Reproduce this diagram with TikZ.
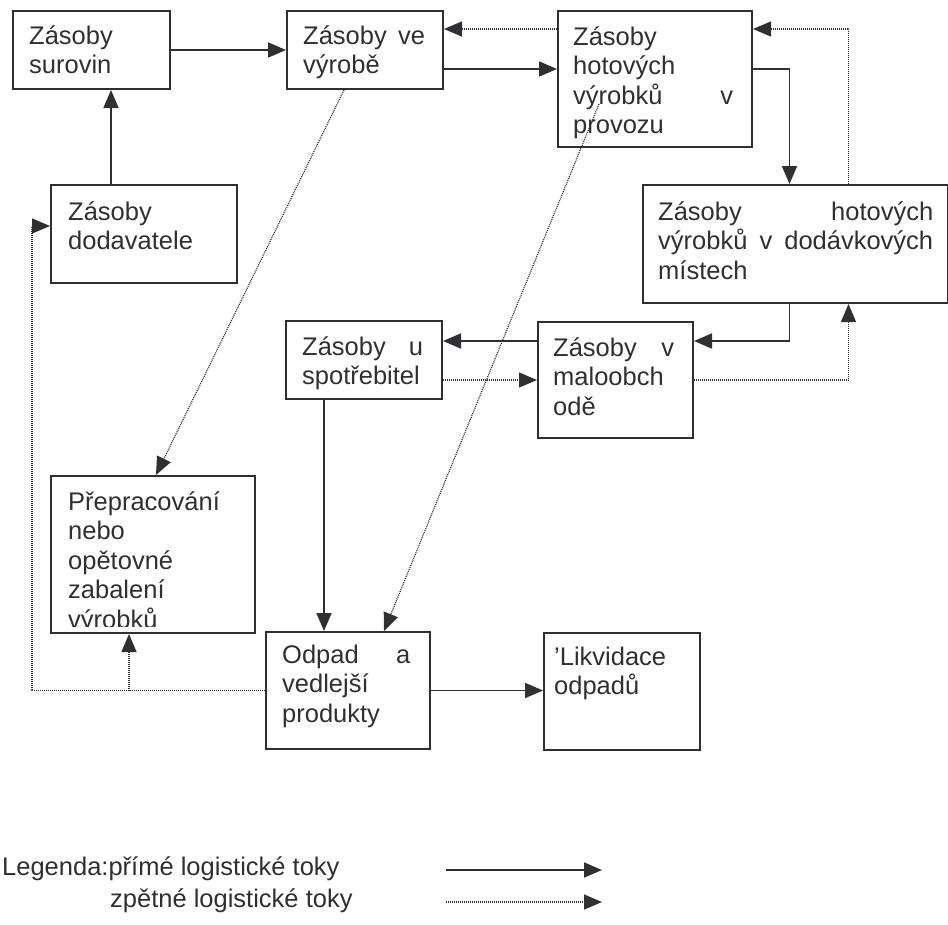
\documentclass[tikz,border=0pt]{standalone}
\usepackage{fontspec}
\setmainfont{Liberation Sans}
\usetikzlibrary{arrows.meta}
\definecolor{ink}{RGB}{48,48,52}
\tikzset{
  zasoba/.style={draw=ink, line width=2pt, anchor=north west, inner sep=0pt},
  popis/.style={anchor=base west, inner sep=0pt, text width=#1, align=justify,
    text=ink, font=\fontsize{25.5pt}{29.5pt}\selectfont},
  legtext/.style={anchor=base west, inner sep=0pt, text=ink,
    font=\fontsize{25.5pt}{29.5pt}\selectfont},
  prima/.style={draw=ink, line width=1.8pt, -{Triangle[length=18pt,width=15pt]}},
  zpetna/.style={draw=ink, line width=1.2pt, dash pattern=on 1pt off 1pt,
    -{Triangle[length=18pt,width=15pt]}}
}
\begin{document}
\begin{tikzpicture}[x=1pt, y=-1pt]
  \fill[white] (0,0) rectangle (948,924);
  \useasboundingbox (0,0) rectangle (948,924);
  % boxes
  \node[zasoba, minimum width=157pt, minimum height=78pt] (surovin) at (12,10) {};
  \node[popis=123pt] (surovin-t) at ([shift={(17,34)}]surovin.north west) {Zásoby\\surovin};
  \node[zasoba, minimum width=156pt, minimum height=78pt] (vyroba) at (286,10) {};
  \node[popis=122pt] (vyroba-t) at ([shift={(17,34)}]vyroba.north west) {Zásoby ve\linebreak výrobě};
  \node[zasoba, minimum width=186pt, minimum height=98pt] (dodav) at (50,184) {};
  \node[popis=152pt] (dodav-t) at ([shift={(18,36)}]dodav.north west) {Zásoby\\dodavatele};
  \node[zasoba, minimum width=194pt, minimum height=136pt] (hotprov) at (557,10) {};
  \node[popis=160pt] (hotprov-t) at ([shift={(16,35)}]hotprov.north west) {Zásoby\\hotových\\výrobků v\linebreak provozu};
  \node[zasoba, minimum width=305pt, minimum height=118pt] (dodmista) at (642,184) {};
  \node[popis=275pt] (dodmista-t) at ([shift={(16,36)}]dodmista.north west) {Zásoby hotových\linebreak výrobků v dodávkových\linebreak místech};
  \node[zasoba, minimum width=155pt, minimum height=116pt] (maloob) at (537,321) {};
  \node[popis=121pt] (maloob-t) at ([shift={(16,35)}]maloob.north west) {Zásoby v\linebreak maloobch\\odě};
  \node[zasoba, minimum width=156pt, minimum height=78pt] (spotreb) at (285,320) {};
  \node[popis=121pt] (spotreb-t) at ([shift={(17,35)}]spotreb.north west) {Zásoby u\linebreak spotřebitel};
  \node[zasoba, minimum width=204pt, minimum height=157pt] (prepr) at (50,475) {};
  \begin{scope}
    \clip (prepr.north west) rectangle ([yshift=8pt]prepr.south east);
    \node[popis=170pt] (prepr-t) at ([shift={(18,35)}]prepr.north west) {Přepracování\\nebo\\opětovné\\zabalení\\výrobků};
  \end{scope}
  \node[zasoba, minimum width=164pt, minimum height=117pt] (odpad) at (265,631) {};
  \node[popis=128pt] (odpad-t) at ([shift={(17,32)}]odpad.north west) {Odpad a\linebreak vedlejší\\produkty};
  \node[zasoba, minimum width=156pt, minimum height=117pt] (likvid) at (543,632) {};
  \node[popis=130pt] (likvid-t) at ([shift={(11,33)}]likvid.north west) {'Likvidace\\odpadů};
  % branch points
  \coordinate (prim1) at ([yshift=-19pt]vyroba.east);
  \coordinate (zpet1) at ([yshift=21pt]vyroba.east);
  \coordinate (prim2) at ([yshift=39pt]maloob.west);
  \coordinate (prim3) at ([xshift=-40pt]spotreb.south);
  \coordinate (zpet2) at ([yshift=8pt]dodav.west);
  \coordinate (zpet3) at ([xshift=-24pt]prepr.south);
  % direct flows
  \draw[prima] (surovin.east) -- (vyroba.west);
  \draw[prima] ([xshift=-33pt]dodav.north) -- ([xshift=-33pt]dodav.north |- surovin.south);
  \draw[prima] (prim1) -- (prim1 -| hotprov.west);
  \draw[prima] (prim1 -| hotprov.east) -| ([xshift=-6pt]dodmista.north);
  \draw[prima] ([xshift=-6pt]dodmista.south) |- ([yshift=39pt]maloob.east);
  \draw[prima] (prim2) -- (prim2 -| spotreb.east);
  \draw[prima] (prim3) -- (prim3 |- odpad.north);
  \draw[prima] (odpad.east) -- (odpad.east -| likvid.west);
  % reverse flows
  \draw[zpetna] (zpet1 -| hotprov.west) -- (zpet1);
  \draw[zpetna] ([xshift=53pt]dodmista.north) |- (zpet1 -| hotprov.east);
  \draw[zpetna] (maloob.west -| spotreb.east) -- (maloob.west);
  \draw[zpetna] (maloob.east) -| ([xshift=53pt]dodmista.south);
  \draw[zpetna] ([xshift=-21pt]vyroba.south) -- ([xshift=3pt]prepr.north);
  \draw[zpetna] ([shift={(-56,25)}]hotprov.center) -- ([xshift=36pt]odpad.north);
  \draw[zpetna] (odpad.west) -| ([xshift=-18pt]zpet2) -- (zpet2);
  \draw[zpetna] (zpet3 |- odpad.west) -- (zpet3);
  % legend
  \node[legtext] (leg1) at (2,875) {Legenda:přímé logistické toky};
  \node[legtext] (leg2) at (110,907) {zpětné logistické toky};
  \coordinate (lp1) at (446,870);
  \coordinate (lp2) at (602,870);
  \coordinate (lz1) at (446,902);
  \coordinate (lz2) at (602,902);
  \draw[prima] (lp1) -- (lp2);
  \draw[zpetna] (lz1) -- (lz2);
\end{tikzpicture}
\end{document}
